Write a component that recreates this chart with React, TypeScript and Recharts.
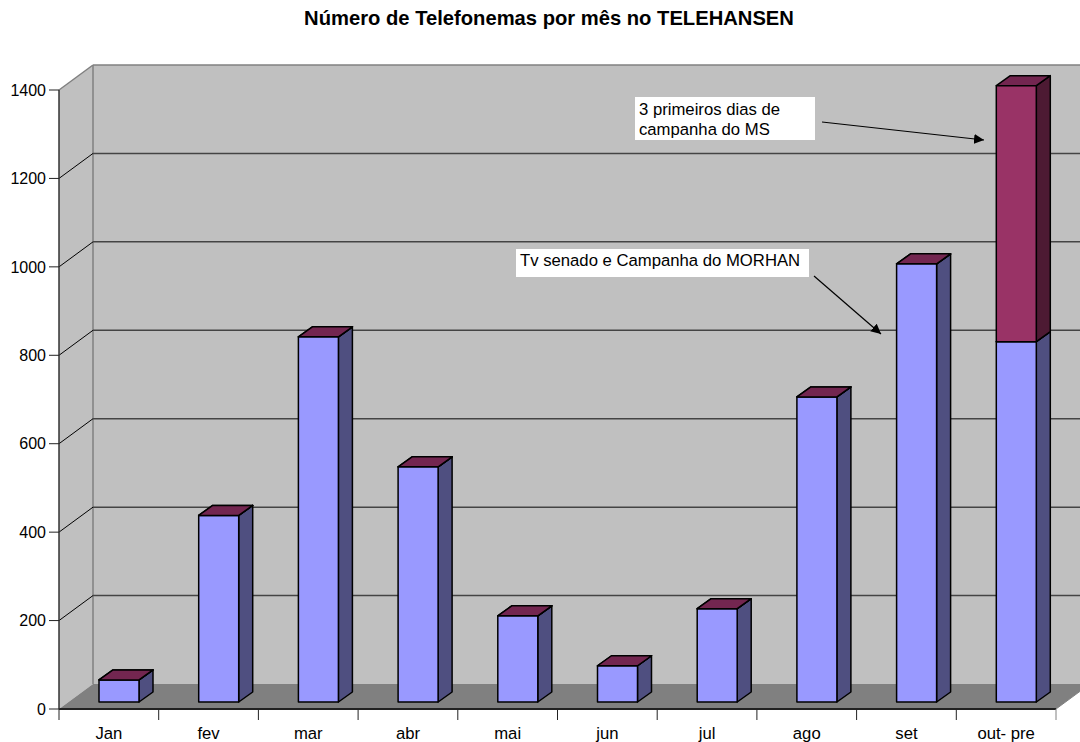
import { Bar, BarChart, CartesianGrid, ReferenceArea, XAxis, YAxis } from 'recharts'

const months = ['Jan', 'fev', 'mar', 'abr', 'mai', 'jun', 'jul', 'ago', 'set', 'out- pre']
const baseCalls = [50, 422, 826, 532, 195, 82, 211, 690, 991, 815]
const campaignCalls = [0, 0, 0, 0, 0, 0, 0, 0, 0, 579]
const yTicks = [0, 200, 400, 600, 800, 1000, 1200, 1400]

const chartData = months.map((month, i) => ({
  month,
  base: baseCalls[i],
  campaign: campaignCalls[i],
}))

const FONT = '"Liberation Sans", Arial, sans-serif'

// fake 3D: how far the back wall sits from the front plane
const DEPTH_X = 34
const DEPTH_Y = 25
// bar depth and the gap between front plane and bar
const BAR_DX = 14
const BAR_DY = 10
const GAP_DX = 10
const GAP_DY = 7

function Walls(props: any) {
  const { x, y, width, height } = props
  const bottom = y + height
  const right = x + width
  return (
    <g>
      <polygon
        points={`${x + DEPTH_X},${y - DEPTH_Y} ${right + DEPTH_X},${y - DEPTH_Y} ${right + DEPTH_X},${bottom - DEPTH_Y} ${x + DEPTH_X},${bottom - DEPTH_Y}`}
        fill="#c0c0c0"
        stroke="none"
      />
      <polygon
        points={`${x},${y} ${x + DEPTH_X},${y - DEPTH_Y} ${x + DEPTH_X},${bottom - DEPTH_Y} ${x},${bottom}`}
        fill="#c0c0c0"
        stroke="none"
      />
      <polygon
        points={`${x},${bottom} ${x + DEPTH_X},${bottom - DEPTH_Y} ${right + DEPTH_X},${bottom - DEPTH_Y} ${right},${bottom}`}
        fill="#808080"
        stroke="none"
      />
      <line x1={x + DEPTH_X} y1={y - DEPTH_Y} x2={x + DEPTH_X} y2={bottom - DEPTH_Y} stroke="#808080" strokeWidth={1.5} />
      <line x1={right} y1={bottom} x2={right + DEPTH_X} y2={bottom - DEPTH_Y} stroke="#808080" strokeWidth={1} />
    </g>
  )
}

function GridLine(props: any) {
  const { x1, x2, y1, index } = props
  const isTop = y1 < 91
  const isFloor = y1 > 700
  if (isFloor) return <g key={index} />
  return (
    <g key={index}>
      <line
        x1={x1}
        y1={y1}
        x2={x1 + DEPTH_X}
        y2={y1 - DEPTH_Y}
        stroke={isTop ? '#808080' : '#000'}
        strokeWidth={isTop ? 1.5 : 1}
      />
      <line
        x1={x1 + DEPTH_X}
        y1={y1 - DEPTH_Y}
        x2={x2 + DEPTH_X}
        y2={y1 - DEPTH_Y}
        stroke={isTop ? '#808080' : '#444'}
        strokeWidth={1.5}
      />
    </g>
  )
}

function bar3d(front: string, side: string, top: string) {
  return function Bar3d(props: any) {
    const { x, y, width, height } = props
    const l = x + GAP_DX
    const r = l + width
    const t = y - GAP_DY
    const b = t + height
    return (
      <g stroke="#000" strokeWidth={1.5} strokeLinejoin="round">
        <polygon points={`${r},${t} ${r + BAR_DX},${t - BAR_DY} ${r + BAR_DX},${b - BAR_DY} ${r},${b}`} fill={side} />
        <polygon points={`${l},${t} ${r},${t} ${r + BAR_DX},${t - BAR_DY} ${l + BAR_DX},${t - BAR_DY}`} fill={top} />
        <rect x={l} y={t} width={width} height={height} fill={front} />
      </g>
    )
  }
}

function MonthTick(props: any) {
  const { x, y, payload, index, width, visibleTicksCount } = props
  const step = width / visibleTicksCount
  const left = x - step / 2
  return (
    <g>
      <line x1={left} y1={y} x2={left} y2={y + 11} stroke="#222" strokeWidth={1} />
      {index === visibleTicksCount - 1 && (
        <line x1={left + step} y1={y} x2={left + step} y2={y + 11} stroke="#808080" strokeWidth={1} />
      )}
      <text x={x} y={y + 30} textAnchor="middle" fontSize={16.7} fontFamily={FONT} fill="#000">
        {payload.value}
      </text>
    </g>
  )
}

export default function App() {
  return (
    <div style={{ position: 'absolute', left: 0, top: 0, width: 1080, height: 742, overflow: 'hidden', background: '#fff' }}>
      <BarChart
        width={1080}
        height={742}
        data={chartData}
        margin={{ top: 90, right: 24, bottom: 0, left: 0 }}
        barSize={40}
        style={{ fontFamily: FONT }}
      >
        <ReferenceArea y1={0} y2={1400} shape={Walls} ifOverflow="visible" zIndex={-200} />
        <CartesianGrid vertical={false} horizontal={GridLine as any} />
        <XAxis
          dataKey="month"
          height={33}
          interval={0}
          tickLine={false}
          tickSize={0}
          tickMargin={0}
          tick={MonthTick as any}
          axisLine={{ stroke: '#222', strokeWidth: 2 }}
        />
        <YAxis
          width={59}
          domain={[0, 1400]}
          ticks={yTicks}
          interval={0}
          tickSize={10}
          tickMargin={3}
          tick={{ fontSize: 16, fill: '#000', fontFamily: FONT }}
          tickLine={{ stroke: '#222', strokeWidth: 1 }}
          axisLine={{ stroke: '#333', strokeWidth: 1.5 }}
        />
        <Bar dataKey="base" stackId="calls" isAnimationActive={false} shape={bar3d('#9999ff', '#4f4f80', '#732250') as any} />
        <Bar dataKey="campaign" stackId="calls" isAnimationActive={false} shape={bar3d('#993366', '#4d1a33', '#732650') as any} />
      </BarChart>

      <svg width={1080} height={742} style={{ position: 'absolute', left: 0, top: 0, pointerEvents: 'none' }} fontFamily={FONT}>
        <defs>
          <marker id="head" markerUnits="userSpaceOnUse" markerWidth={11} markerHeight={10} refX={10} refY={5} orient="auto">
            <polygon points="0,0 10,5 0,10" fill="#000" />
          </marker>
        </defs>
        <text x={549} y={25} textAnchor="middle" fontSize={20.2} fontWeight="bold" fill="#000">
          Número de Telefonemas por mês no TELEHANSEN
        </text>

        <rect x={635} y={97} width={180} height={43} fill="#fff" />
        <text x={639} y={115} fontSize={16.7} fill="#000">3 primeiros dias de</text>
        <text x={639} y={135} fontSize={16.7} fill="#000">campanha do MS</text>
        <line x1={822} y1={122} x2={984} y2={140} stroke="#000" strokeWidth={1.2} markerEnd="url(#head)" />

        <rect x={516} y={249} width={293} height={28} fill="#fff" />
        <text x={520} y={266} fontSize={16.7} fill="#000">Tv senado e Campanha do MORHAN</text>
        <line x1={814} y1={276} x2={881} y2={334} stroke="#000" strokeWidth={1.2} markerEnd="url(#head)" />
      </svg>
    </div>
  )
}
